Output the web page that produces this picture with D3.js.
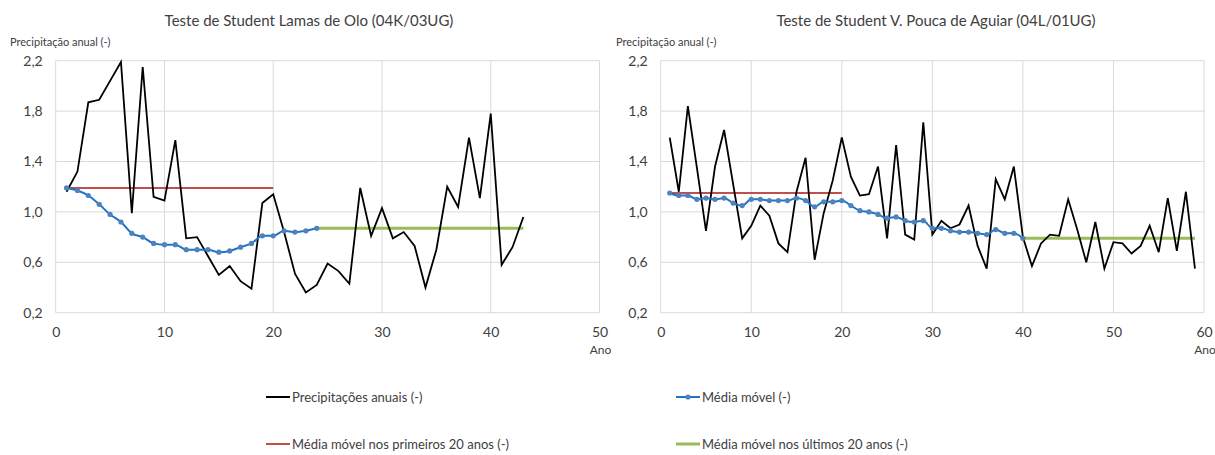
<!DOCTYPE html>
<html>
<head>
<meta charset="utf-8">
<script src="https://cdn.jsdelivr.net/npm/d3@7"></script>
<style>
body { margin:0; background:#fff; }
svg { font-family: Lato, "Open Sans", sans-serif; }
</style>
</head>
<body>
<svg id="chart"></svg>
<script>
// anos (eixo x)
var anosLamas = d3.range(1, 44)
var anosPouca = d3.range(1, 60)

// precipitacao anual adimensional - Lamas de Olo
var precLamas = [1.16,1.32,1.87,1.89,2.04,2.19,0.99,2.15,1.12,1.09,
    1.57,0.79,0.80,0.65,0.50,0.57,0.45,0.39,1.07,1.14,
    0.84,0.51,0.36,0.42,0.59,0.53,0.43,1.19,0.81,1.03,
    0.79,0.84,0.73,0.40,0.70,1.20,1.04,1.59,1.11,1.78,
    0.58,0.72,0.96]
var mediaLamas = [1.19,1.17,1.13,1.06,0.98,0.92,0.83,0.80,0.75,0.74,
    0.74,0.70,0.70,0.70,0.68,0.69,0.72,0.75,0.81,0.81,
    0.85,0.84,0.85,0.87]
var primeirosLamas = 1.19
var ultimosLamas = 0.87

// precipitacao anual adimensional - V. Pouca de Aguiar
var precPouca = [1.59,1.16,1.84,1.35,0.85,1.36,1.65,1.22,0.79,0.89,
    1.05,0.97,0.75,0.68,1.16,1.43,0.62,0.99,1.25,1.59,
    1.28,1.13,1.14,1.36,0.79,1.53,0.82,0.78,1.71,0.82,
    0.93,0.87,0.90,1.05,0.73,0.55,1.26,1.10,1.36,0.80,
    0.57,0.75,0.82,0.81,1.10,0.86,0.60,0.92,0.55,0.76,
    0.75,0.67,0.73,0.89,0.68,1.11,0.69,1.16,0.55]
var mediaPouca = [1.15,1.13,1.13,1.10,1.11,1.10,1.11,1.07,1.05,1.10,
    1.10,1.09,1.09,1.09,1.11,1.09,1.04,1.08,1.08,1.09,
    1.05,1.01,1.00,0.98,0.95,0.96,0.93,0.92,0.93,0.87,
    0.87,0.85,0.84,0.84,0.83,0.82,0.86,0.83,0.83,0.79]
var primeirosPouca = 1.15
var ultimosPouca = 0.79

var yTicks = [0.2,0.6,1.0,1.4,1.8,2.2]
var xTicksLamas = [0,10,20,30,40,50]
var xTicksPouca = [0,10,20,30,40,50,60]

var legendas = ["Precipitações anuais (-)", "Média móvel (-)",
    "Média móvel nos primeiros 20 anos (-)", "Média móvel nos últimos 20 anos (-)"]

var cores = {prec:"#000000", media:"#1f74c6", marker:"#4f81bd", prim:"#c0504d", ult:"#9bbb59"}

var svg = d3.select("#chart")
    .attr("width",1215)
    .attr("height",455)

var virgula = function(d){ return d3.format(".1f")(d).replace(".",","); }

var drawChart = function(cfg)
{
    var xScale = d3.scaleLinear()
        .domain(cfg.xDomain)
        .range(cfg.xRange)

    var yScale = d3.scaleLinear()
        .domain([0.2,2.2])
        .range([312.7,60.7])

    var g = svg.append("g")

    // grelha
    g.selectAll(".gx")
        .data(cfg.xTicks)
        .enter()
        .append("line")
        .attr("x1",function(d){ return xScale(d); })
        .attr("x2",function(d){ return xScale(d); })
        .attr("y1",yScale(0.2))
        .attr("y2",yScale(2.2))
        .attr("stroke","#d9d9d9")
        .attr("stroke-width",1)

    g.selectAll(".gy")
        .data(yTicks)
        .enter()
        .append("line")
        .attr("x1",cfg.xRange[0])
        .attr("x2",cfg.xRange[1])
        .attr("y1",function(d){ return yScale(d); })
        .attr("y2",function(d){ return yScale(d); })
        .attr("stroke","#d9d9d9")
        .attr("stroke-width",1)

    // eixos
    var yAxis = d3.axisLeft(yScale)
        .tickValues(yTicks)
        .tickSize(0)
        .tickPadding(13)
        .tickFormat(virgula)

    var xAxis = d3.axisBottom(xScale)
        .tickValues(cfg.xTicks)
        .tickSize(0)
        .tickPadding(14)
        .tickFormat(d3.format("d"))

    var ya = g.append("g")
        .attr("transform","translate("+cfg.xRange[0]+",0)")
        .call(yAxis)
    var xa = g.append("g")
        .attr("transform","translate(0,"+yScale(0.2)+")")
        .call(xAxis)

    ya.select(".domain").remove()
    xa.select(".domain").remove()
    g.selectAll(".tick text")
        .attr("font-size",14)
        .attr("font-family","Lato, sans-serif")
        .attr("fill","#404040")

    // titulos
    g.append("text")
        .attr("x",cfg.titleX)
        .attr("y",26)
        .attr("text-anchor","middle")
        .attr("font-size",15)
        .attr("fill","#404040")
        .text(cfg.title)

    g.append("text")
        .attr("x",cfg.yTitleX)
        .attr("y",46)
        .attr("font-size",11)
        .attr("fill","#404040")
        .text("Precipitação anual (-)")

    g.append("text")
        .attr("x",cfg.xRange[1]+1)
        .attr("y",354)
        .attr("text-anchor","middle")
        .attr("font-size",12)
        .attr("fill","#404040")
        .text("Ano")

    var line = d3.line()
        .x(function(d){ return xScale(d[0]); })
        .y(function(d){ return yScale(d[1]); })

    // medias dos primeiros / ultimos 20 anos
    g.append("path")
        .datum([[cfg.primX[0],cfg.prim],[cfg.primX[1],cfg.prim]])
        .attr("d",line)
        .attr("fill","none")
        .attr("stroke",cores.prim)
        .attr("stroke-width",2)

    g.append("path")
        .datum([[cfg.ultX[0],cfg.ult],[cfg.ultX[1],cfg.ult]])
        .attr("d",line)
        .attr("fill","none")
        .attr("stroke",cores.ult)
        .attr("stroke-width",3)

    // precipitacao anual
    g.append("path")
        .datum(cfg.anos.map(function(a,i){ return [a,cfg.prec[i]]; }))
        .attr("d",line)
        .attr("fill","none")
        .attr("stroke",cores.prec)
        .attr("stroke-width",1.8)
        .attr("stroke-linejoin","miter")

    // media movel
    var media = cfg.media.map(function(v,i){ return [i+1,v]; })
    g.append("path")
        .datum(media)
        .attr("d",line.curve(d3.curveMonotoneX))
        .attr("fill","none")
        .attr("stroke",cores.media)
        .attr("stroke-width",2)

    g.selectAll(".mk")
        .data(media)
        .enter()
        .append("circle")
        .attr("cx",function(d){ return xScale(d[0]); })
        .attr("cy",function(d){ return yScale(d[1]); })
        .attr("r",2.6)
        .attr("fill",cores.marker)
}

drawChart({
    title:"Teste de Student  Lamas de Olo (04K/03UG)",
    titleX:309, yTitleX:10,
    xDomain:[0,50], xRange:[55.7,599.5], xTicks:xTicksLamas,
    anos:anosLamas, prec:precLamas, media:mediaLamas,
    prim:primeirosLamas, primX:[1,20],
    ult:ultimosLamas, ultX:[24,43]
})

drawChart({
    title:"Teste de Student  V. Pouca de Aguiar (04L/01UG)",
    titleX:936, yTitleX:616,
    xDomain:[0,60], xRange:[660.7,1204], xTicks:xTicksPouca,
    anos:anosPouca, prec:precPouca, media:mediaPouca,
    prim:primeirosPouca, primX:[1,20],
    ult:ultimosPouca, ultX:[40,59]
})

// legenda
var legItems = [
    {txt:legendas[0], cor:cores.prec, w:2, x:266, y:397, mk:false},
    {txt:legendas[1], cor:cores.media, w:2, x:676, y:397, mk:true},
    {txt:legendas[2], cor:cores.prim, w:2, x:266, y:444, mk:false},
    {txt:legendas[3], cor:cores.ult, w:3, x:676, y:444, mk:false}
]

var leg = svg.append("g")
    .selectAll("g")
    .data(legItems)
    .enter()
    .append("g")
    .attr("transform",function(d){ return "translate("+d.x+","+d.y+")"; })

leg.append("line")
    .attr("x1",0)
    .attr("x2",24)
    .attr("stroke",function(d){ return d.cor; })
    .attr("stroke-width",function(d){ return d.w; })

leg.filter(function(d){ return d.mk; })
    .append("circle")
    .attr("cx",12)
    .attr("r",2.6)
    .attr("fill",cores.marker)

leg.append("text")
    .attr("x",26)
    .attr("y",5)
    .attr("font-size",13)
    .attr("fill","#404040")
    .text(function(d){ return d.txt; })
</script>
</body>
</html>
